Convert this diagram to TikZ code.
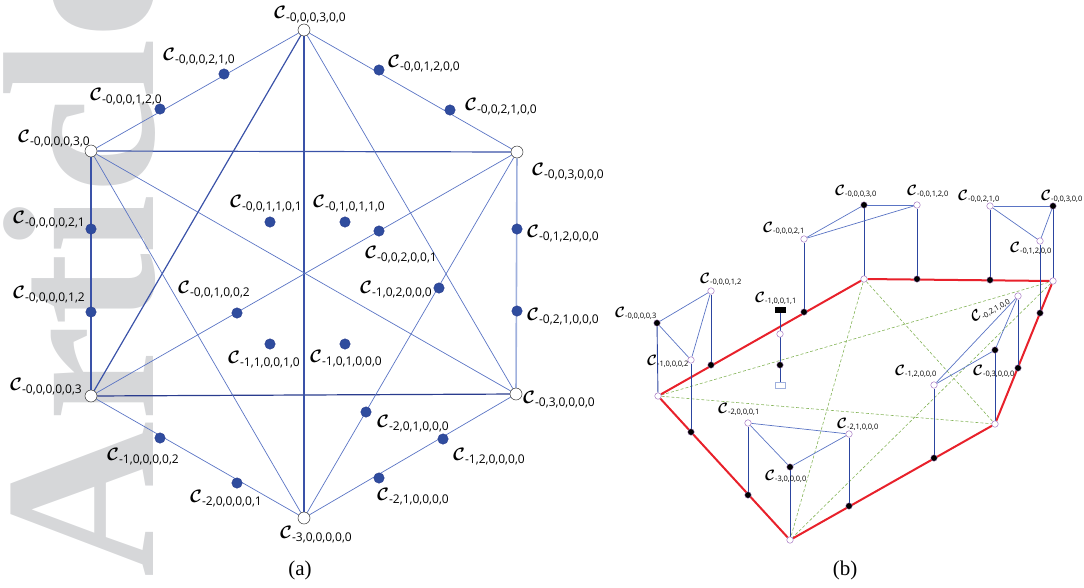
\RequirePackage{fix-cm}
\documentclass[tikz,border=0pt]{standalone}
\usepackage{fontspec}
\usepackage{amsmath}
\setmainfont{Liberation Serif}
\newfontfamily\subf{Open Sans}
\usetikzlibrary{backgrounds}
\definecolor{lblue}{HTML}{5A74C4}
\definecolor{dblue}{HTML}{3A52A8}
\definecolor{nblue}{HTML}{2A3C8E}
\definecolor{dotblue}{HTML}{2F4C9E}
\definecolor{pal}{HTML}{9FB0DD}
\definecolor{rred}{HTML}{E8212B}
\definecolor{ggreen}{HTML}{86B55A}
\definecolor{purp}{HTML}{A77BC4}
\definecolor{wm}{HTML}{D6D7D9}
\definecolor{vblue}{HTML}{2C45A0}
\newcommand{\CA}[1]{{\fontsize{18}{18}\selectfont$\boldsymbol{\mathcal{C}}$}\raisebox{-3pt}{\subf\fontsize{12}{12}\selectfont #1}}
\newcommand{\CB}[1]{{\fontsize{15}{15}\selectfont$\boldsymbol{\mathcal{C}}$}\raisebox{-1.5pt}{\subf\fontsize{7.5}{7.5}\selectfont #1}}
\tikzset{
  ln/.style={draw=lblue, line width=0.7pt},
  lnb/.style={draw=dblue, line width=1.2pt},
  bdot/.style={circle, fill=dotblue, draw=nblue, line width=0.4pt, inner sep=0pt, minimum size=10.5pt},
  wdot/.style={circle, fill=white, draw=black!80, line width=0.5pt, inner sep=0pt, minimum size=12pt},
  laba/.style={anchor=base west, inner sep=0pt},
  labb/.style={anchor=base west, inner sep=0pt},
  kdot/.style={circle, fill=black, draw=purp, line width=0.3pt, inner sep=0pt, minimum size=6.5pt},
  pdot/.style={circle, fill=white, draw=purp, line width=0.5pt, inner sep=0pt, minimum size=6.5pt},
  redl/.style={draw=rred, line width=2pt},
  grl/.style={draw=ggreen, line width=0.6pt, dash pattern=on 3pt off 2pt},
  vl/.style={draw=vblue, line width=0.9pt},
  tl/.style={draw=lblue, line width=0.7pt},
  captxt/.style={font=\fontsize{21}{21}\selectfont, inner sep=0pt}
}
\begin{document}
\begin{tikzpicture}[x=1pt,y=-1pt]
\useasboundingbox (0,0) rectangle (1084,587);
% ---------------- panel (a) ----------------
\node[wdot] (T) at (304,30) {};
\node[wdot] (UL) at (91,151) {};
\node[wdot] (UR) at (517,152) {};
\node[wdot] (LL) at (91,396) {};
\node[wdot] (LR) at (516,394) {};
\node[wdot] (B) at (304,518) {};
\node[bdot] (h1) at (224,74) {};
\node[bdot] (h2) at (160,109) {};
\node[bdot] (h3) at (379,70) {};
\node[bdot] (h4) at (450,110) {};
\node[bdot] (h5) at (91,229) {};
\node[bdot] (h6) at (91,312) {};
\node[bdot] (h7) at (517,229) {};
\node[bdot] (h8) at (517,311) {};
\node[bdot] (h9) at (160,438) {};
\node[bdot] (h10) at (237,483) {};
\node[bdot] (h11) at (443,439) {};
\node[bdot] (h12) at (379,478) {};
\node[bdot] (i1) at (270,222) {};
\node[bdot] (i2) at (345,222) {};
\node[bdot] (i3) at (379,231) {};
\node[bdot] (i4) at (237,313) {};
\node[bdot] (i5) at (439,288) {};
\node[bdot] (i6) at (366,412) {};
\node[bdot] (i7) at (270,344) {};
\node[bdot] (i8) at (345,344) {};
% labels (a)
\node[laba] at (274,18) {\CA{-0,0,0,3,0,0}};
\node[laba] at (163,60) {\CA{-0,0,0,2,1,0}};
\node[laba] at (90,100) {\CA{-0,0,0,1,2,0}};
\node[laba] at (18,142) {\CA{-0,0,0,0,3,0}};
\node[laba] at (388,67) {\CA{-0,0,1,2,0,0}};
\node[laba] at (465,110) {\CA{-0,0,2,1,0,0}};
\node[laba] at (532,175) {\CA{-0,0,3,0,0,0}};
\node[laba] at (13,223) {\CA{-0,0,0,0,2,1}};
\node[laba] at (13,298) {\CA{-0,0,0,0,1,2}};
\node[laba] at (10,390) {\CA{-0,0,0,0,0,3}};
\node[laba] at (230,207) {\CA{-0,0,1,1,0,1}};
\node[laba] at (178,293) {\CA{-0,0,1,0,0,2}};
\node[laba] at (228,363) {\CA{-1,1,0,0,1,0}};
\node[laba] at (313,207) {\CA{-0,1,0,1,1,0}};
\node[laba] at (365,258) {\CA{-0,0,2,0,0,1}};
\node[laba] at (360,293) {\CA{-1,0,2,0,0,0}};
\node[laba] at (310,362) {\CA{-1,0,1,0,0,0}};
\node[laba] at (527,237) {\CA{-0,1,2,0,0,0}};
\node[laba] at (527,320) {\CA{-0,2,1,0,0,0}};
\node[laba] at (523,403) {\CA{-0,3,0,0,0,0}};
\node[laba] at (107,460) {\CA{-1,0,0,0,0,2}};
\node[laba] at (190,502) {\CA{-2,0,0,0,0,1}};
\node[laba] at (280,538) {\CA{-3,0,0,0,0,0}};
\node[laba] at (377,427) {\CA{-2,0,1,0,0,0}};
\node[laba] at (453,460) {\CA{-1,2,0,0,0,0}};
\node[laba] at (377,500) {\CA{-2,1,0,0,0,0}};
\node[captxt] (capa) at (300,570) {(a)};
% ---------------- panel (b) ----------------
\node[pdot] (P1) at (658,396) {};
\node[pdot] (P2) at (864,279) {};
\node[pdot] (P3) at (1053,281) {};
\node[pdot] (P4) at (995,424) {};
\node[pdot] (P5) at (790,540) {};
\node[kdot] (k1) at (711,365) {};
\node[kdot] (k2) at (804,312) {};
\node[kdot] (k3) at (917,279) {};
\node[kdot] (k4) at (990,280) {};
\node[kdot] (k5) at (1040,313) {};
\node[kdot] (k6) at (1018,368) {};
\node[kdot] (k7) at (934,458) {};
\node[kdot] (k8) at (849,506) {};
\node[kdot] (k9) at (748,495) {};
\node[kdot] (k10) at (691,432) {};
\node[kdot] (a1) at (657,323) {};
\node[pdot] (a2) at (711,291) {};
\node[pdot] (a3) at (691,360) {};
\node[pdot] (b1) at (804,239) {};
\node[kdot] (b2) at (864,205) {};
\node[pdot] (b3) at (917,205) {};
\node[pdot] (c1) at (990,206) {};
\node[kdot] (c2) at (1053,206) {};
\node[pdot] (c3) at (1040,241) {};
\node[pdot] (d1) at (1018,296) {};
\node[kdot] (d2) at (995,350) {};
\node[pdot] (d3) at (934,385) {};
\node[pdot] (e1) at (748,423) {};
\node[pdot] (e2) at (849,434) {};
\node[kdot] (e3) at (790,467) {};
\node[draw=black, fill=black, inner sep=0pt, minimum width=10pt, minimum height=5pt] (m0) at (780,310) {};
\node[pdot] (m1) at (780,334) {};
\node[kdot] (m2) at (780,365) {};
\node[draw=pal, fill=white, line width=0.6pt, inner sep=0pt, minimum width=10pt, minimum height=6pt] (m3) at (780,385) {};
% labels (b)
\node[labb] at (615,317) {\CB{-0,0,0,0,3}};
\node[labb] at (700,283) {\CB{-0,0,0,1,2}};
\node[labb] at (647,365) {\CB{-1,0,0,0,2}};
\node[labb] at (755,302) {\CB{-1,0,0,1,1}};
\node[labb] at (763,232) {\CB{-0,0,0,2,1}};
\node[labb] at (835,195) {\CB{-0,0,0,3,0}};
\node[labb] at (907,195) {\CB{-0,0,1,2,0}};
\node[labb] at (958,200) {\CB{-0,0,2,1,0}};
\node[labb] at (1041,200) {\CB{-0,0,3,0,0}};
\node[labb] at (1010,252) {\CB{-0,1,2,0,0}};
\node[labb, rotate=30] at (974,323) {\CB{-0,2,1,0,0}};
\node[labb] at (973,375) {\CB{-0,3,0,0,0}};
\node[labb] at (895,375) {\CB{-1,2,0,0,0}};
\node[labb] at (718,413) {\CB{-2,0,0,0,1}};
\node[labb] at (837,428) {\CB{-2,1,0,0,0}};
\node[labb] at (765,480) {\CB{-3,0,0,0,0}};
\node[captxt] (capb) at (845,570) {(b)};
% ---------------- connectors ----------------
\begin{scope}[on background layer]
\node[rotate=90, anchor=base west, inner sep=0pt, text=wm, font=\fontsize{216}{216}\selectfont\bfseries] (wmk) at (153,578) {Article};
% (a)
\draw[ln] (T) -- (UL);
\draw[ln] (T) -- (UR);
\draw[ln] (LL) -- (B);
\draw[ln] (LR) -- (B);
\draw[lnb] (UL) -- (LL);
\draw[draw=pal, line width=1.6pt] (UR) -- (LR);
\draw[lnb] (UL) -- (UR);
\draw[lnb, draw=nblue] (LL) -- (LR);
\draw[lnb] (T) -- (B);
\draw[lnb] (T) -- (LL);
\draw[ln] (T) -- (LR);
\draw[ln] (UL) -- (B);
\draw[ln] (UL) -- (LR);
\draw[ln] (UR) -- (LL);
\draw[ln] (UR) -- (B);
% (b) dashed pentagram
\draw[grl] (P1) -- (P3);
\draw[grl] (P1) -- (P4);
\draw[grl] (P2) -- (P4);
\draw[grl] (P2) -- (P5);
\draw[grl] (P3) -- (P5);
% (b) red pentagon
\draw[redl] (P1) -- (P2);
\draw[redl] (P2) -- (P3);
\draw[redl] (P3) -- (P4);
\draw[redl] (P4) -- (P5);
\draw[redl] (P5) -- (P1);
% verticals
\draw[vl] (a1) -- (P1);
\draw[vl] (a2) -- (k1);
\draw[vl] (a3) -- (k10);
\draw[vl] (b1) -- (k2);
\draw[vl] (b2) -- (P2);
\draw[vl] (b3) -- (k3);
\draw[vl] (c1) -- (k4);
\draw[vl] (c2) -- (P3);
\draw[vl] (c3) -- (k5);
\draw[vl] (d1) -- (k6);
\draw[vl] (d2) -- (P4);
\draw[vl] (d3) -- (k7);
\draw[vl] (e1) -- (k9);
\draw[vl] (e2) -- (k8);
\draw[vl] (e3) -- (P5);
\draw[vl] (m0) -- (m3);
% triangles
\draw[tl] (a1) -- (a2);
\draw[tl] (a1) -- (a3);
\draw[tl] (a3) -- (a2);
\draw[tl] (b1) -- (b2);
\draw[tl] (b1) -- (b3);
\draw[tl] (b2) -- (b3);
\draw[tl] (c1) -- (c2);
\draw[tl] (c1) -- (c3);
\draw[tl] (c3) -- (c2);
\draw[tl] (d1) -- (d3);
\draw[tl] (d1) -- (d2);
\draw[tl] (d2) -- (d3);
\draw[tl] (e1) -- (e2);
\draw[tl] (e1) -- (e3);
\draw[tl] (e3) -- (e2);
\end{scope}
\end{tikzpicture}
\end{document}
